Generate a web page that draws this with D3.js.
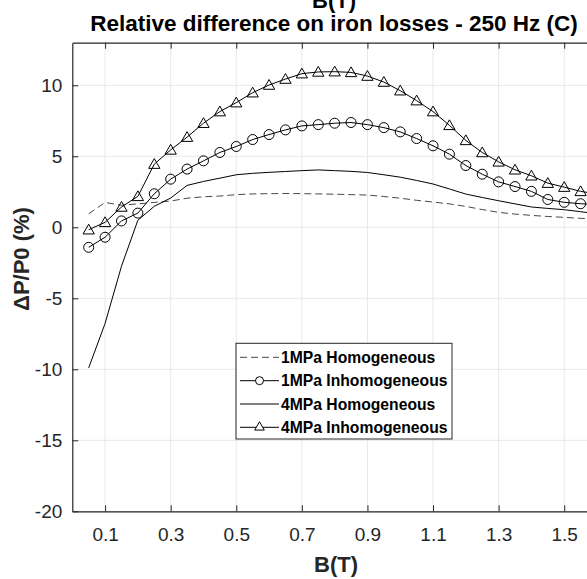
<!DOCTYPE html>
<html><head><meta charset="utf-8">
<script src="https://cdn.jsdelivr.net/npm/d3@7"></script>
<style>body{margin:0;background:#fff}svg{display:block}</style>
</head><body><div id="c"></div>
<script>
const B = [0.05,0.1,0.15,0.2,0.25,0.3,0.35,0.4,0.45,0.5,0.55,0.6,0.65,0.7,0.75,0.8,0.85,0.9,0.95,1.0,1.05,1.1,1.15,1.2,1.25,1.3,1.35,1.4,1.45,1.5,1.55,1.6];
const hom1 = [0.95,1.75,1.55,1.65,1.75,1.85,2.05,2.15,2.2,2.3,2.35,2.37,2.38,2.37,2.35,2.33,2.3,2.27,2.17,2.05,1.9,1.78,1.65,1.47,1.25,1.05,0.93,0.84,0.76,0.7,0.63,0.58];
const inh1 = [-1.41,-0.70,0.45,1.0,2.36,3.39,4.1,4.68,5.27,5.69,6.18,6.53,6.86,7.14,7.23,7.33,7.38,7.23,7.02,6.72,6.25,5.74,5.15,4.35,3.74,3.2,2.87,2.53,1.96,1.76,1.66,1.6];
const hom4 = [-9.9,-6.77,-2.74,0.5,1.48,2.06,2.95,3.23,3.46,3.7,3.8,3.87,3.93,3.99,4.04,3.99,3.94,3.86,3.7,3.53,3.3,3.05,2.7,2.34,2.1,1.87,1.65,1.43,1.33,1.24,1.1,0.95];
const inh4 = [-0.17,0.35,1.43,2.18,4.45,5.45,6.35,7.33,8.15,8.78,9.48,10.02,10.44,10.82,10.94,10.96,10.91,10.65,10.23,9.62,8.92,8.15,7.18,6.12,5.27,4.61,4.05,3.63,3.11,2.83,2.53,2.35];
const seriesNames = ["1MPa Homogeneous","1MPa Inhomogeneous","4MPa Homogeneous","4MPa Inhomogeneous"];
const xTicks = [0.1,0.3,0.5,0.7,0.9,1.1,1.3,1.5];
const yTicks = [-20,-15,-10,-5,0,5,10];

const W=587,H=579;
const L=72.3,R=597,T=42.7,Bm=511.3;
const svg=d3.select("#c").append("svg").attr("width",W).attr("height",H);
const x=d3.scaleLinear().domain([0,1.6]).range([L,R]);
const y=d3.scaleLinear().domain([-20,13]).range([Bm,T]);
const font="'Liberation Sans', Arial, Helvetica, sans-serif";
const axc="#262626";

// grid
const g=svg.append("g");
g.selectAll(".gx").data(xTicks).join("line").attr("x1",d=>x(d)).attr("x2",d=>x(d)).attr("y1",T).attr("y2",Bm).attr("stroke","#e8e8e8").attr("stroke-width",1);
g.selectAll(".gy").data(yTicks).join("line").attr("x1",L).attr("x2",R).attr("y1",d=>y(d)).attr("y2",d=>y(d)).attr("stroke","#e8e8e8").attr("stroke-width",1);

// axes
const xa=svg.append("g").attr("transform",`translate(0,${Bm})`).call(d3.axisBottom(x).tickValues(xTicks).tickSizeInner(-6).tickSizeOuter(0).tickPadding(16).tickFormat(d3.format(".1f")));
const xt=svg.append("g").attr("transform",`translate(0,${T})`).call(d3.axisTop(x).tickValues(xTicks).tickSizeInner(-6).tickSizeOuter(0).tickFormat(""));
const ya=svg.append("g").attr("transform",`translate(${L},0)`).call(d3.axisLeft(y).tickValues(yTicks).tickSizeInner(-6).tickSizeOuter(0).tickPadding(10).tickFormat(d=>String(d)));
[xa,xt,ya].forEach(a=>{a.select(".domain").attr("stroke",axc).attr("stroke-width",1.2);a.selectAll(".tick line").attr("stroke",axc);a.selectAll("text").attr("fill",axc).style("font-family",font).style("font-size","19px");});

// clip
svg.append("clipPath").attr("id","clip").append("rect").attr("x",L).attr("y",T).attr("width",R-L).attr("height",Bm-T);
const p=svg.append("g").attr("clip-path","url(#clip)");
const line=d3.line().x((d,i)=>x(B[i])).y(d=>y(d));
const tri=d3.symbol().type(d3.symbolTriangle).size(55);

p.append("path").datum(hom1).attr("d",line).attr("fill","none").attr("stroke","#333").attr("stroke-width",0.9).attr("stroke-dasharray","7,4");
p.append("path").datum(hom4).attr("d",line).attr("fill","none").attr("stroke","#000").attr("stroke-width",1);
p.append("path").datum(inh1).attr("d",line).attr("fill","none").attr("stroke","#000").attr("stroke-width",1);
p.selectAll(".c").data(inh1).join("circle").attr("cx",(d,i)=>x(B[i])).attr("cy",d=>y(d)).attr("r",5).attr("fill","none").attr("stroke","#000").attr("stroke-width",1);
p.append("path").datum(inh4).attr("d",line).attr("fill","none").attr("stroke","#000").attr("stroke-width",1);
p.selectAll(".t").data(inh4).join("path").attr("d",tri).attr("transform",(d,i)=>`translate(${x(B[i])},${y(d)+1})`).attr("fill","none").attr("stroke","#000").attr("stroke-width",1);

// labels
svg.append("text").attr("x",334).attr("y",8).attr("text-anchor","middle").style("font-family",font).style("font-weight","bold").style("font-size","22px").attr("fill","#000").text("B(T)");
svg.append("text").attr("x",334).attr("y",31).attr("text-anchor","middle").style("font-family",font).style("font-weight","bold").style("font-size","22.5px").attr("fill","#000").text("Relative difference on iron losses - 250 Hz (C)");
svg.append("text").attr("x",336).attr("y",572).attr("text-anchor","middle").style("font-family",font).style("font-weight","bold").style("font-size","22px").attr("fill",axc).text("B(T)");
svg.append("text").attr("transform","translate(29,259) rotate(-90)").attr("text-anchor","middle").style("font-family",font).style("font-weight","bold").style("font-size","22px").attr("fill",axc).text("ΔP/P0 (%)");

// legend
const lg=svg.append("g");
lg.append("rect").attr("x",236).attr("y",343.3).attr("width",216).attr("height",95.7).attr("fill","#fff").attr("stroke",axc).attr("stroke-width",1);
const rowsY=[357.3,380.7,404,427.3];
seriesNames.forEach((n,i)=>{
  const yy=rowsY[i];
  lg.append("line").attr("x1",240).attr("x2",279).attr("y1",yy).attr("y2",yy).attr("stroke",i===0?"#333":"#000").attr("stroke-width",i===0?0.9:1).attr("stroke-dasharray",i===0?"7,4":null);
  if(i===1) lg.append("circle").attr("cx",259.5).attr("cy",yy).attr("r",4).attr("fill","#fff").attr("stroke","#000");
  if(i===3) lg.append("path").attr("d",d3.symbol().type(d3.symbolTriangle).size(40)).attr("transform",`translate(259.5,${yy})`).attr("fill","#fff").attr("stroke","#000");
  lg.append("text").attr("x",281).attr("y",yy+5.5).style("font-family",font).style("font-weight","bold").style("font-size","15.7px").attr("fill","#000").text(n);
});
</script></body></html>
